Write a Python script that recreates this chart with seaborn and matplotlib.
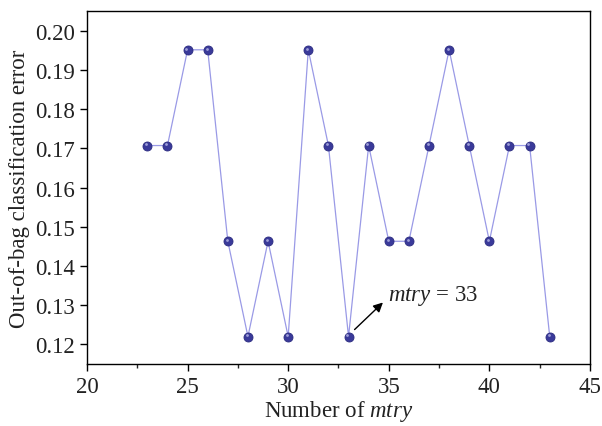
import matplotlib
matplotlib.use("Agg")
import matplotlib.pyplot as plt
import seaborn as sns
import pandas as pd
from matplotlib.ticker import MultipleLocator

mtry = [23, 24, 25, 26, 27, 28, 29, 30, 31, 32, 33, 34, 35, 36, 37, 38, 39, 40, 41, 42, 43]
oob_error = [0.1707, 0.1707, 0.1951, 0.1951, 0.1463, 0.1220, 0.1463, 0.1220, 0.1951, 0.1707,
             0.1220, 0.1707, 0.1463, 0.1463, 0.1707, 0.1951, 0.1707, 0.1463, 0.1707, 0.1707, 0.1220]
x_ticks = [20, 25, 30, 35, 40, 45]
y_ticks = [0.12, 0.13, 0.14, 0.15, 0.16, 0.17, 0.18, 0.19, 0.20]

sns.set_theme(style="ticks")
plt.rcParams["font.family"] = ["Liberation Serif", "DejaVu Serif"]
plt.rcParams["mathtext.fontset"] = "custom"
plt.rcParams["mathtext.rm"] = "Liberation Serif"
plt.rcParams["mathtext.it"] = "Liberation Serif:italic"

FS = 16.5
TXT = "#222222"

df = pd.DataFrame({"mtry": mtry, "err": oob_error})

fig = plt.figure(figsize=(6.02, 4.27), dpi=100)
ax = fig.add_axes([0.1445, 0.145, 0.8355, 0.827])

sns.lineplot(data=df, x="mtry", y="err", ax=ax, color="#9a9ae6", linewidth=0.9,
             marker="o", markersize=6.5, markerfacecolor="#3a3a9a",
             markeredgecolor="#2c2c80", markeredgewidth=0.6)
# sphere highlight
ax.plot(df["mtry"], df["err"], linestyle="none", marker="o", markersize=2.0,
        markerfacecolor="#b8b8e8", markeredgewidth=0, alpha=0.8,
        transform=ax.transData + matplotlib.transforms.ScaledTranslation(-1.2/100, 1.2/100, fig.dpi_scale_trans))

ax.set_xlim(20, 45)
ax.set_ylim(0.115, 0.205)
ax.set_xticks(x_ticks)
ax.set_yticks(y_ticks)
ax.set_yticklabels([f"{v:.2f}" for v in y_ticks])
ax.xaxis.set_minor_locator(MultipleLocator(2.5))

for s in ax.spines.values():
    s.set_linewidth(1.0)
    s.set_color("black")
ax.tick_params(axis="both", which="major", direction="out", length=5, width=1.0,
               labelsize=FS, colors="black", labelcolor=TXT)
ax.tick_params(axis="x", which="minor", direction="out", length=3, width=1.0)
ax.tick_params(top=False, right=False, which="both")

ax.set_xlabel("Number of $mtry$", fontsize=FS, color=TXT, labelpad=1)
ax.set_ylabel("Out-of-bag classification error", fontsize=FS, color=TXT, labelpad=4)

ax.annotate("", xy=(34.71, 0.1307), xytext=(33.3, 0.1238), textcoords="data",
            arrowprops=dict(arrowstyle="-|>", color="black", lw=1.0, mutation_scale=14,
                            shrinkA=0, shrinkB=0))
ax.text(34.95, 0.1327, "$mtry$ = 33", fontsize=FS, color=TXT, ha="left", va="center")

fig.savefig("out.png", dpi=100)
